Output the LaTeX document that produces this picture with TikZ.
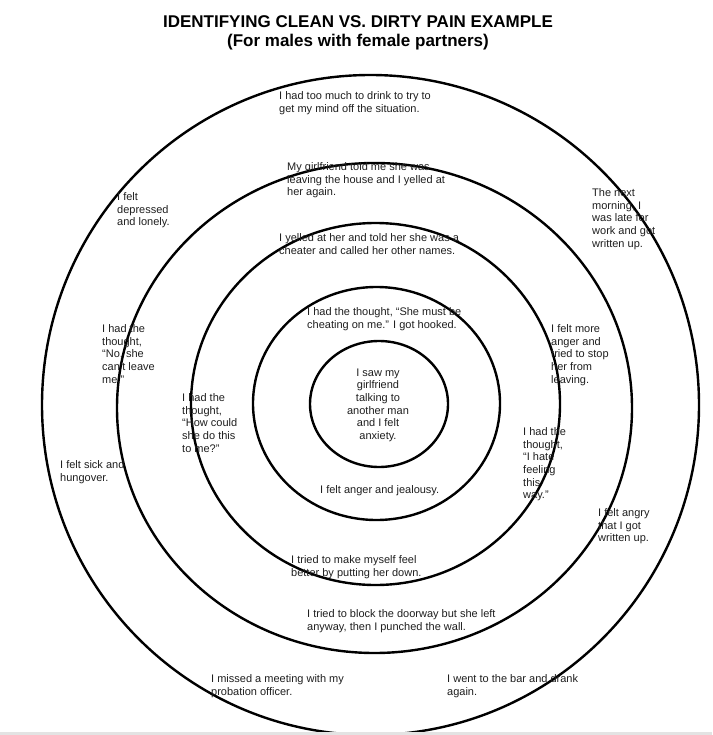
\documentclass[tikz,border=0pt]{standalone}
\usepackage{fontspec}
\setmainfont{Liberation Sans}
\tikzset{
  ring/.style={draw=black, line width=2.4pt},
  txt/.style={font=\fontsize{11}{12.65}\selectfont, align=left, anchor=north west, inner sep=0pt, text=black!88},
  ttl/.style={font=\fontsize{17}{20}\selectfont\bfseries, anchor=base, inner sep=0pt, text=black}
}
\begin{document}
\begin{tikzpicture}[x=1pt,y=-1pt]
\useasboundingbox (0,0) rectangle (712,735);
\fill[white] (0,0) rectangle (712,735);
\begin{scope}
\clip (0,0) rectangle (712,735);
\draw[ring] (379,404) ellipse [x radius=69pt, y radius=63pt];
\draw[ring] (376.5,403.5) ellipse [x radius=123.5pt, y radius=116.5pt];
\draw[ring] (375.5,404) ellipse [x radius=184.5pt, y radius=181pt];
\draw[ring] (374.5,408) ellipse [x radius=257.5pt, y radius=245pt];
\draw[ring] (370.5,405) ellipse [x radius=328.5pt, y radius=330pt];
\end{scope}
\fill[gray!22] (0,732) rectangle (712,735);

\node[ttl] (t1) at (358,27.5) {IDENTIFYING CLEAN VS. DIRTY PAIN EXAMPLE};
\node[ttl] (t2) at (358,47) {(For males with female partners)};

\node[txt] (a1) at (279,91.5) {I had too much to drink to try to\\get my mind off the situation.};
\node[txt] (a2) at (287,162.5) {My girlfriend told me she was\\leaving the house and I yelled at\\her again.};
\node[txt] (a3) at (279,233.5) {I yelled at her and told her she was a\\cheater and called her other names.};
\node[txt] (a4) at (307,307.5) {I had the thought, “She must be\\cheating on me.” I got hooked.};
\node[txt, align=center, anchor=north] (c) at (378,368.5) {I saw my\\girlfriend\\talking to\\another man\\and I felt\\anxiety.};
\node[txt] (a6) at (320,485.5) {I felt anger and jealousy.};
\node[txt] (a7) at (291,555.5) {I tried to make myself feel\\better by putting her down.};
\node[txt] (a8) at (307,609.5) {I tried to block the doorway but she left\\anyway, then I punched the wall.};
\node[txt] (a9) at (211,674.5) {I missed a meeting with my\\probation officer.};
\node[txt] (a10) at (447,674.5) {I went to the bar and drank\\again.};
\node[txt] (b1) at (60,460.5) {I felt sick and\\hungover.};
\node[txt] (b2) at (102,324.5) {I had the\\thought,\\“No, she\\can’t leave\\me.”};
\node[txt] (b3) at (182,393.5) {I had the\\thought,\\“How could\\she do this\\to me?”};
\node[txt] (b4) at (117,192.5) {I felt\\depressed\\and lonely.};
\node[txt] (d1) at (551,324.5) {I felt more\\anger and\\tried to stop\\her from\\leaving.};
\node[txt] (d2) at (523,427.5) {I had the\\thought,\\“I hate\\feeling\\this\\way.”};
\node[txt] (d3) at (598,508.5) {I felt angry\\that I got\\written up.};
\node[txt] (d4) at (592,188.5) {The next\\morning, I\\was late for\\work and got\\written up.};
\end{tikzpicture}
\end{document}
